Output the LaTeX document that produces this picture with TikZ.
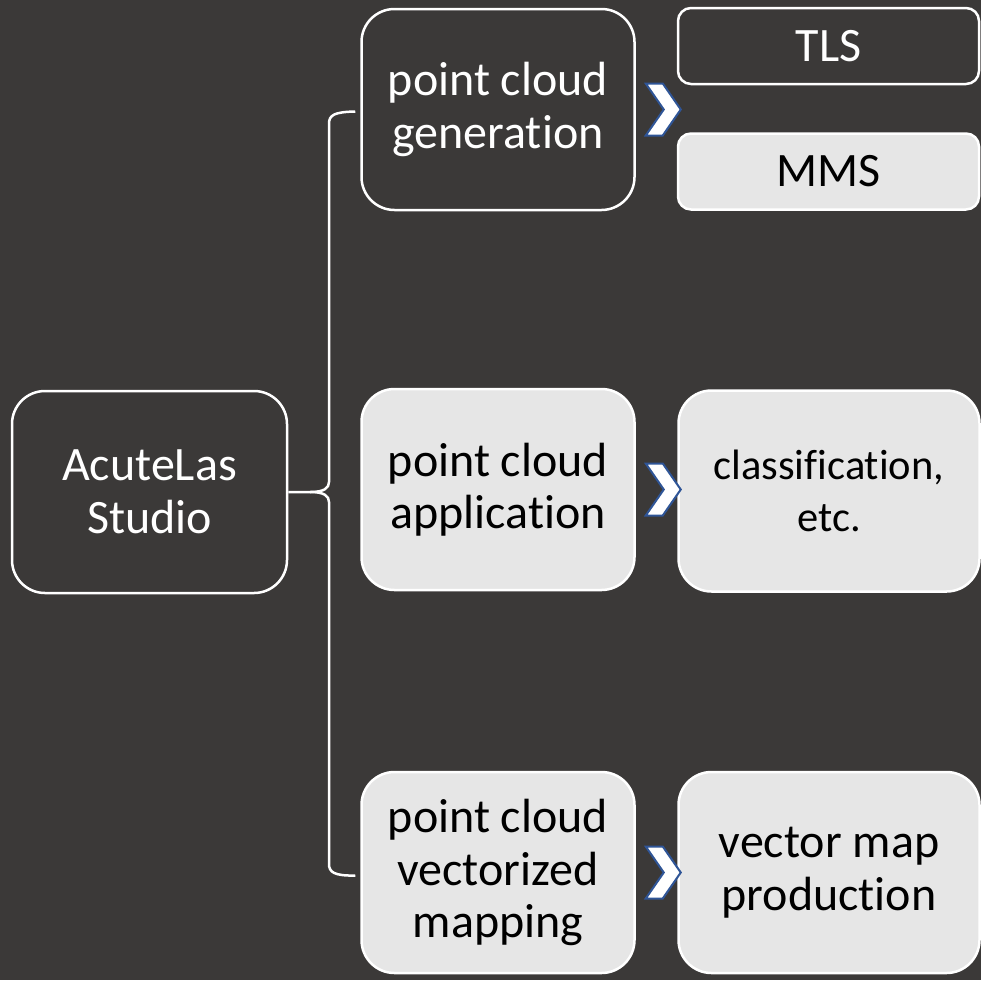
\documentclass[tikz,border=0pt]{standalone}
\usepackage{fontspec}
\setmainfont{Carlito}[Ligatures={NoCommon}]
\usetikzlibrary{calc}
\definecolor{bgcol}{HTML}{3B3938}
\definecolor{lightfill}{HTML}{E6E6E6}
\definecolor{chevblue}{HTML}{2F5597}
\begin{document}
\begin{tikzpicture}[x=1pt,y=-1pt,
  basebox/.style={draw=white, line width=2.5pt, rounded corners=33pt, inner sep=0pt, align=center, font=\fontsize{48}{52.5}\selectfont},
  darkbox/.style={basebox, fill=bgcol, text=white},
  lightbox/.style={basebox, fill=lightfill, text=black},
  bigsize/.style={minimum width=273pt, minimum height=201pt},
  rightsize/.style={minimum width=301pt, minimum height=201pt},
  smallsize/.style={minimum width=301pt, minimum height=76pt, rounded corners=13pt},
  chev/.style={fill=white, draw=chevblue, line width=2pt, line join=miter},
  brk/.style={draw=white, line width=2.5pt},
  chevron/.pic={\draw[chev] (-17,-26) -- (0,-26) -- (18,0) -- (0,26) -- (-17,26) -- (1,0) -- cycle;}]
\fill[bgcol] (0,0) rectangle (981,980);
\useasboundingbox (0,0) rectangle (981,980);

\node[darkbox, minimum width=275pt, minimum height=202pt] (root) at (149.5,492) {AcuteLas\\Studio};
\node[darkbox, bigsize] (pcg) at (498,109.5) {point cloud\\generation};
\node[lightbox, bigsize] (pca) at (498,489.5) {point cloud\\application};
\node[lightbox, bigsize] (pcvm) at (498,872.5) {point cloud\\vectorized\\mapping};
\node[darkbox, smallsize] (tls) at (828.5,46) {TLS};
\node[lightbox, smallsize] (mms) at (828.5,171.5) {MMS};
\node[lightbox, rightsize, font=\fontsize{42.5}{52}\selectfont] (cls) at (829,491) {classification,\\etc.};
\node[lightbox, rightsize] (vmp) at (829,872.5) {vector map\\production};

% bracket
\coordinate (top) at ($(pcg.west)+(-5,2)$);
\coordinate (bot) at ($(pcvm.west)+(-5,3)$);
\coordinate (mid) at ($(root.east)+(22,0)$);
\draw[brk] (root.east) -- (mid) .. controls +(14,0) and +(0,6) .. (329,482) -- (329,124) .. controls (329,115) and (334,112) .. (top);
\draw[brk] (mid) .. controls +(14,0) and +(0,-6) .. (329,502) -- (329,864) .. controls (329,872) and (334,876) .. (bot);

% chevrons
\path (pcg.east) ++(27,0) pic {chevron};
\path (pca.east) ++(27,0) pic {chevron};
\path (pcvm.east) ++(27,0) pic {chevron};
\end{tikzpicture}
\end{document}
